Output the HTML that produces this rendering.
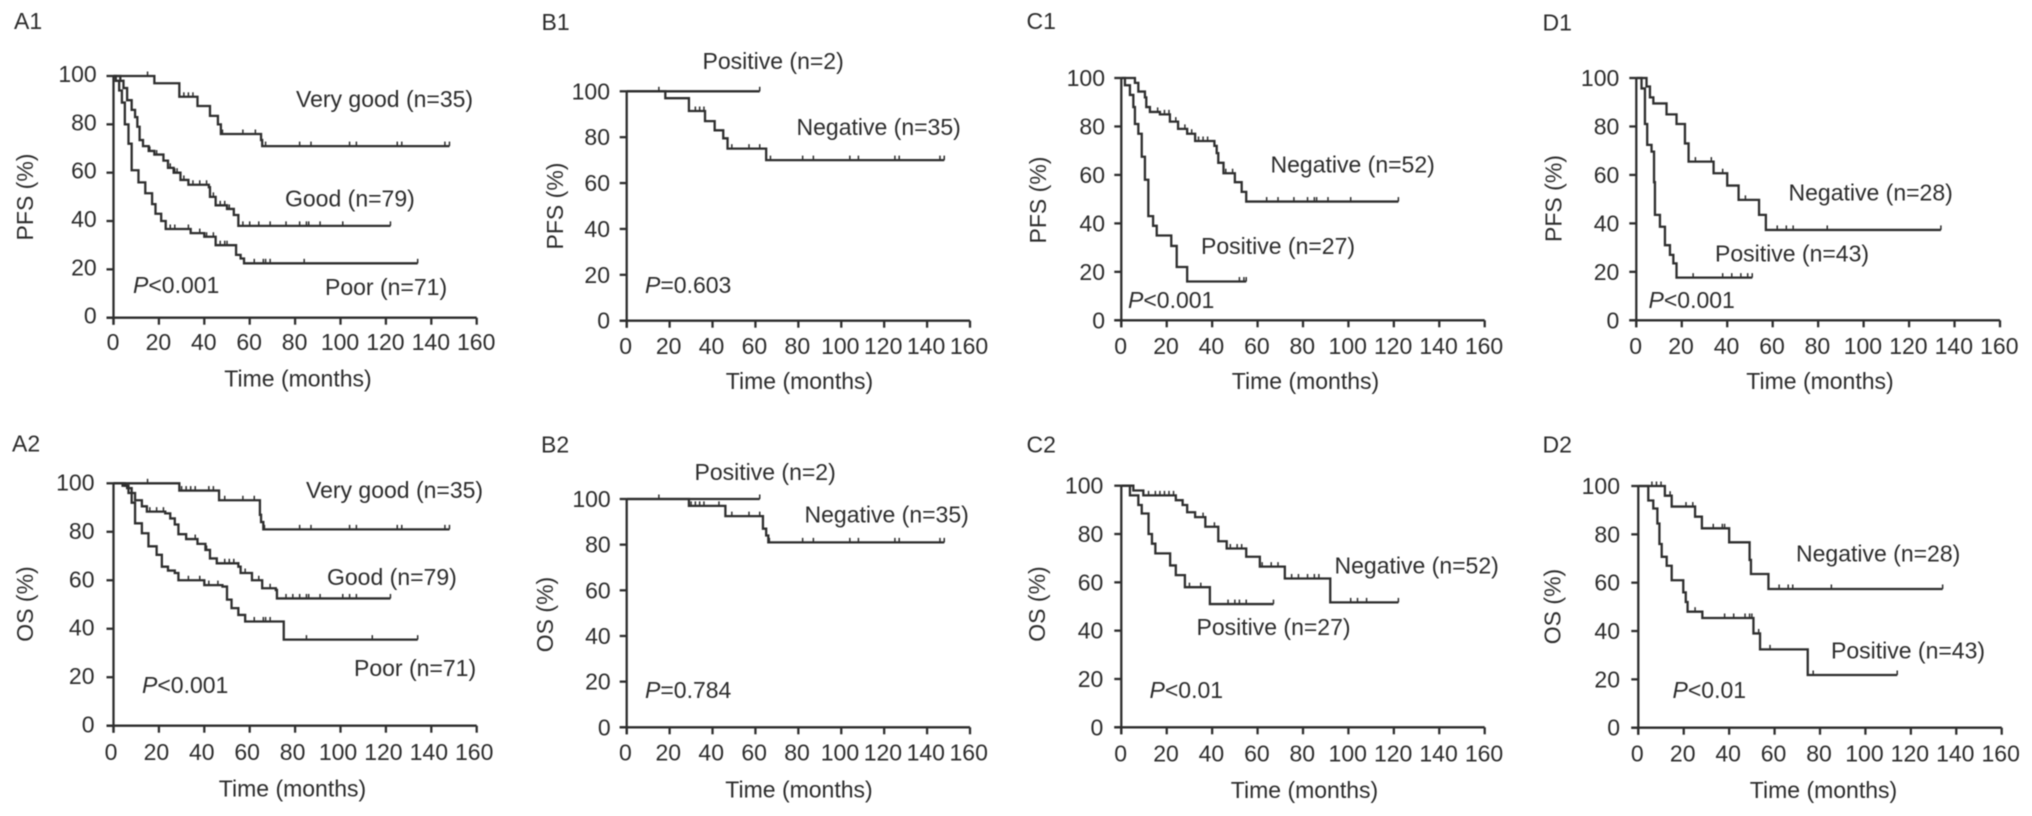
<!DOCTYPE html>
<html lang="en">
<head>
<meta charset="utf-8">
<title>Kaplan-Meier survival curves</title>
<style>
  html, body { margin: 0; padding: 0; background: #fff; width: 2032px; height: 816px; overflow: hidden; }
  svg { display: block; filter: blur(0.6px); }
  text { font-family: "Liberation Sans", Arial, sans-serif; font-size: 23px; fill: #2c2c2c; }
  .axis, .tick, .curve, .censor { stroke: #2e2e2e; fill: none; }
  .axis, .tick { stroke-width: 2.3; }
  .curve { stroke-width: 2.3; stroke-linejoin: miter; }
  .censor { stroke-width: 1.5; }
</style>
</head>
<body>
<svg id="figure" xmlns="http://www.w3.org/2000/svg" width="2032" height="816" viewBox="0 0 2032 816">
  <rect width="2032" height="816" fill="#fff"/>

  <g id="panel-a1">
    <text x="14" y="29">A1</text>
    <text x="296" y="107">Very good (n=35)</text>
    <text x="285" y="206.5">Good (n=79)</text>
    <text x="325" y="295">Poor (n=71)</text>
    <text x="133" y="293"><tspan font-style="italic">P</tspan>&lt;0.001</text>
    <text x="298" y="386.5" text-anchor="middle">Time (months)</text>
    <text x="33" y="197" text-anchor="middle" transform="rotate(-90 33 197)">PFS (%)</text>
  </g>

  <g id="panel-a2">
    <text x="12" y="451.5">A2</text>
    <text x="306" y="498">Very good (n=35)</text>
    <text x="327" y="585">Good (n=79)</text>
    <text x="354" y="676">Poor (n=71)</text>
    <text x="142" y="693"><tspan font-style="italic">P</tspan>&lt;0.001</text>
    <text x="292.5" y="796.5" text-anchor="middle">Time (months)</text>
    <text x="33" y="604" text-anchor="middle" transform="rotate(-90 33 604)">OS (%)</text>
  </g>

  <g id="panel-b1">
    <text x="541.5" y="30">B1</text>
    <text x="702.5" y="69">Positive (n=2)</text>
    <text x="796.5" y="135">Negative (n=35)</text>
    <text x="645" y="293"><tspan font-style="italic">P</tspan>=0.603</text>
    <text x="799.5" y="389" text-anchor="middle">Time (months)</text>
    <text x="563" y="206" text-anchor="middle" transform="rotate(-90 563 206)">PFS (%)</text>
  </g>

  <g id="panel-b2">
    <text x="541" y="452.5">B2</text>
    <text x="694.5" y="480">Positive (n=2)</text>
    <text x="804.5" y="522.5">Negative (n=35)</text>
    <text x="645" y="698"><tspan font-style="italic">P</tspan>=0.784</text>
    <text x="799" y="797.5" text-anchor="middle">Time (months)</text>
    <text x="553" y="614.5" text-anchor="middle" transform="rotate(-90 553 614.5)">OS (%)</text>
  </g>

  <g id="panel-c1">
    <text x="1026.5" y="29">C1</text>
    <text x="1270.5" y="172.5">Negative (n=52)</text>
    <text x="1201" y="254">Positive (n=27)</text>
    <text x="1128" y="308"><tspan font-style="italic">P</tspan>&lt;0.001</text>
    <text x="1305.5" y="389" text-anchor="middle">Time (months)</text>
    <text x="1046" y="200" text-anchor="middle" transform="rotate(-90 1046 200)">PFS (%)</text>
  </g>

  <g id="panel-c2">
    <text x="1026.5" y="452.5">C2</text>
    <text x="1334.5" y="573.5">Negative (n=52)</text>
    <text x="1196.5" y="635">Positive (n=27)</text>
    <text x="1149.5" y="698"><tspan font-style="italic">P</tspan>&lt;0.01</text>
    <text x="1304.5" y="798" text-anchor="middle">Time (months)</text>
    <text x="1045" y="604" text-anchor="middle" transform="rotate(-90 1045 604)">OS (%)</text>
  </g>

  <g id="panel-d1">
    <text x="1542.5" y="30.5">D1</text>
    <text x="1788.5" y="200.5">Negative (n=28)</text>
    <text x="1715" y="261.5">Positive (n=43)</text>
    <text x="1648.5" y="308"><tspan font-style="italic">P</tspan>&lt;0.001</text>
    <text x="1820" y="389" text-anchor="middle">Time (months)</text>
    <text x="1561.5" y="198.5" text-anchor="middle" transform="rotate(-90 1561.5 198.5)">PFS (%)</text>
  </g>

  <g id="panel-d2">
    <text x="1542.5" y="452.5">D2</text>
    <text x="1796" y="561.5">Negative (n=28)</text>
    <text x="1831" y="658.5">Positive (n=43)</text>
    <text x="1672.5" y="698"><tspan font-style="italic">P</tspan>&lt;0.01</text>
    <text x="1823.5" y="798" text-anchor="middle">Time (months)</text>
    <text x="1560.5" y="606.5" text-anchor="middle" transform="rotate(-90 1560.5 606.5)">OS (%)</text>
  </g>
</svg>

<script>
// ---------- tick labels ----------
const timeTickLabels = [0, 20, 40, 60, 80, 100, 120, 140, 160];
const percentTickLabels = [0, 20, 40, 60, 80, 100];

// ---------- A1 (PFS) ----------
const a1VeryGoodTimes = [18, 29, 37, 42.5, 46, 47.3, 65, 65.5];
const a1VeryGoodValues = [97, 91.4, 87.6, 83.5, 80, 76, 73.5, 71];
const a1VeryGoodCensored = [15, 31, 33, 35, 48, 57, 62.5, 67, 82, 87, 104, 107, 125, 127, 146, 148];
const a1VeryGoodEnd = 148;

const a1GoodTimes = [3, 4.4, 6, 8, 9.5, 10.5, 11.5, 13, 15.5, 18, 22, 24, 26.5, 29.5, 33, 42, 42.5, 45, 50, 53, 55];
const a1GoodValues = [98, 95, 90, 86, 83, 79, 73.5, 71, 69, 67.5, 65, 62, 60, 57, 55, 54, 50, 46.5, 45, 42.5, 38];
const a1GoodCensored = [16, 19, 22, 25, 27, 28, 31, 35, 38, 41, 44, 47, 49, 51, 57, 60, 64, 69, 76, 82, 85, 86, 91, 101, 122];
const a1GoodEnd = 122;

const a1PoorTimes = [1, 2.5, 3.7, 5, 6.6, 8, 11, 14, 17, 18.5, 21, 23, 34, 40, 45, 54, 56, 57.5];
const a1PoorValues = [98, 94, 89, 80, 72, 61, 56, 51.5, 47, 43, 40, 36.7, 35, 33.5, 30, 26, 24.5, 22.5];
const a1PoorCensored = [25, 27, 33, 38, 41, 44, 47, 49, 50, 62, 66, 67, 69, 84, 134];
const a1PoorEnd = 134;

// ---------- A2 (OS) ----------
const a2VeryGoodTimes = [29, 46.5, 64.5, 65, 66];
const a2VeryGoodValues = [97, 93, 87, 84, 81];
const a2VeryGoodCensored = [15, 30, 32, 34, 36, 42, 44, 49, 57, 62, 66.5, 82, 87, 104, 107, 125, 127, 146, 148];
const a2VeryGoodEnd = 148;

const a2GoodTimes = [5, 6.6, 9.5, 12.5, 14.7, 22.8, 25, 27, 28.6, 32, 37, 40.5, 42.5, 45.5, 55, 56, 61, 65.5, 71.5, 72];
const a2GoodValues = [99, 96, 93, 90.5, 88.3, 87.6, 85.5, 83, 79, 77, 75, 72.5, 69, 67, 65.6, 63, 60, 56.7, 56, 52.5];
const a2GoodCensored = [16, 19, 22, 36, 41, 49, 51, 53, 55, 58, 64, 69, 76, 79, 82, 85, 86, 91, 101, 104, 107, 122];
const a2GoodEnd = 122;

const a2PoorTimes = [4, 6, 8, 9.5, 12.5, 15.4, 19, 21.3, 24, 27, 28.6, 40, 48, 50, 52, 55, 58, 75];
const a2PoorValues = [99, 98, 92, 83.5, 79.4, 74, 70.5, 65.6, 64, 63, 60, 58, 57.4, 52, 48.5, 45.7, 43, 35.5];
const a2PoorCensored = [33, 38, 42, 46, 62, 66, 67, 69, 85, 114, 134];
const a2PoorEnd = 134;

// ---------- B1 (PFS) ----------
const b1PositiveTimes = [];
const b1PositiveValues = [];
const b1PositiveCensored = [15, 62];
const b1PositiveEnd = 62;

const b1NegativeTimes = [18, 29, 36.5, 41, 45, 47, 65];
const b1NegativeValues = [97, 91.4, 87, 83, 79.5, 75, 70];
const b1NegativeCensored = [32, 34, 36, 49, 57, 62, 67, 82, 87, 104, 108, 125, 127, 146, 148];
const b1NegativeEnd = 148;

// ---------- B2 (OS) ----------
const b2PositiveTimes = [];
const b2PositiveValues = [];
const b2PositiveCensored = [15, 62];
const b2PositiveEnd = 62;

const b2NegativeTimes = [29, 46, 63.5, 65, 66];
const b2NegativeValues = [97, 92.5, 87, 84, 81];
const b2NegativeCensored = [30, 32, 34, 36, 43, 49, 57, 62, 66.5, 82, 87, 104, 108, 125, 127, 146, 148];
const b2NegativeEnd = 148;

// ---------- C1 (PFS) ----------
const c1NegativeTimes = [6, 7.5, 10.4, 11, 12.6, 17, 21.4, 25, 29, 32.5, 41, 42, 42.7, 45, 50, 53, 55];
const c1NegativeValues = [98, 94.4, 92, 88, 86, 85, 82, 79, 77, 74, 72, 69, 65, 60.7, 57, 53, 49];
const c1NegativeCensored = [16, 19, 21, 24, 28, 31, 34, 36, 38, 46, 49, 64, 69, 76, 82, 85, 86, 91, 101, 122];
const c1NegativeEnd = 122;

const c1PositiveTimes = [1.6, 3.8, 5.3, 6, 7.5, 9, 10.4, 11.9, 14, 15.6, 22, 24.4, 29];
const c1PositiveValues = [97, 93, 88, 81, 77, 67.5, 58, 43, 39, 35, 30.7, 22, 16];
const c1PositiveCensored = [52, 54, 55];
const c1PositiveEnd = 55;

// ---------- C2 (OS) ----------
const c2NegativeTimes = [5.3, 9.7, 24, 27, 29, 32.5, 37, 42.7, 46.4, 55, 61, 72, 92];
const c2NegativeValues = [98, 96, 94, 92, 89, 87, 83, 77, 74, 70.6, 66.5, 61.6, 51.7];
const c2NegativeCensored = [12, 15, 17, 19, 21, 23, 36, 41, 48, 51, 53, 62, 66, 69, 75, 78, 82, 85, 87, 92, 101, 104, 108, 122];
const c2NegativeEnd = 122;

const c2PositiveTimes = [3.8, 7.5, 9, 12, 13.5, 15, 21.5, 24, 28, 39];
const c2PositiveValues = [96, 92, 88.5, 80, 76, 72, 67, 63, 58, 51];
const c2PositiveCensored = [30, 35, 47, 50, 52, 55, 67];
const c2PositiveEnd = 67;

// ---------- D1 (PFS) ----------
const d1NegativeTimes = [4.5, 6, 7.5, 13.3, 17.7, 21.4, 23, 34, 40, 45, 54, 57];
const d1NegativeValues = [96.5, 92, 89.5, 85, 81, 73, 65.5, 60.7, 55.6, 49.7, 43.5, 37.3];
const d1NegativeCensored = [26, 33, 38, 48, 62, 66, 69, 84, 134];
const d1NegativeEnd = 134;

const d1PositiveTimes = [2.3, 3.8, 4.8, 6.7, 7.8, 8.2, 10.4, 12.6, 14.8, 16.3, 17.7];
const d1PositiveValues = [95.7, 81, 72.4, 69.6, 57, 43.5, 38.6, 31, 27, 23.5, 17.6];
const d1PositiveCensored = [25, 38, 42, 46, 49, 51];
const d1PositiveEnd = 51;

// ---------- D2 (OS) ----------
const d2NegativeTimes = [11.7, 14.7, 25, 28, 40, 49, 49.6, 57.3];
const d2NegativeValues = [96, 91.5, 87.3, 82.5, 76.7, 69.4, 63.6, 57.4];
const d2NegativeCensored = [6, 8, 10, 14, 21, 24, 33, 37, 38, 62, 66, 68, 85, 134];
const d2NegativeEnd = 134;

const d2PositiveTimes = [4.4, 6.6, 8.4, 9.3, 10.3, 12.5, 14.7, 19.8, 20.9, 21.7, 28.2, 50.7, 53.6, 74.6];
const d2PositiveValues = [94, 90.7, 84.5, 76, 70.7, 67, 61, 56, 52, 48, 45.4, 39, 32.4, 21.8];
const d2PositiveCensored = [25, 38, 42, 47, 49, 50, 53, 58, 77, 114];
const d2PositiveEnd = 114;

// ---------- panel frames (layout only) ----------
const frameA1 = { left: 113.5, right: 476.7, top: 76, bottom: 317.7, xLabelY: 350, xLabelShift: -0.5, yLabelX: 96.7, yLabelShift: 6 };
const frameA2 = { left: 113.5, right: 476.7, top: 483.3, bottom: 725.7, xLabelY: 760, xLabelShift: -2.5, yLabelX: 94.5, yLabelShift: 7 };
const frameB1 = { left: 626.7, right: 970, top: 91.3, bottom: 320.7, xLabelY: 354, xLabelShift: -1, yLabelX: 610, yLabelShift: 8 };
const frameB2 = { left: 626.7, right: 970, top: 499, bottom: 727.3, xLabelY: 760.7, xLabelShift: -1.3, yLabelX: 610.7, yLabelShift: 8 };
const frameC1 = { left: 1121.3, right: 1484.7, top: 78, bottom: 320.3, xLabelY: 354, xLabelShift: -0.7, yLabelX: 1105, yLabelShift: 8 };
const frameC2 = { left: 1121.3, right: 1484.7, top: 485.7, bottom: 727.3, xLabelY: 761.7, xLabelShift: -0.7, yLabelX: 1103.3, yLabelShift: 8 };
const frameD1 = { left: 1636.3, right: 2000, top: 78, bottom: 320.3, xLabelY: 354, xLabelShift: -0.7, yLabelX: 1619.3, yLabelShift: 8 };
const frameD2 = { left: 1638.3, right: 2001.7, top: 486, bottom: 727.7, xLabelY: 761.7, xLabelShift: -1, yLabelX: 1620, yLabelShift: 8 };

const panels = [
  { id: 'panel-a1', frame: frameA1, series: [
    { name: 'very-good', times: a1VeryGoodTimes, values: a1VeryGoodValues, censored: a1VeryGoodCensored, end: a1VeryGoodEnd },
    { name: 'good', times: a1GoodTimes, values: a1GoodValues, censored: a1GoodCensored, end: a1GoodEnd },
    { name: 'poor', times: a1PoorTimes, values: a1PoorValues, censored: a1PoorCensored, end: a1PoorEnd } ] },
  { id: 'panel-a2', frame: frameA2, series: [
    { name: 'very-good', times: a2VeryGoodTimes, values: a2VeryGoodValues, censored: a2VeryGoodCensored, end: a2VeryGoodEnd },
    { name: 'good', times: a2GoodTimes, values: a2GoodValues, censored: a2GoodCensored, end: a2GoodEnd },
    { name: 'poor', times: a2PoorTimes, values: a2PoorValues, censored: a2PoorCensored, end: a2PoorEnd } ] },
  { id: 'panel-b1', frame: frameB1, series: [
    { name: 'positive', times: b1PositiveTimes, values: b1PositiveValues, censored: b1PositiveCensored, end: b1PositiveEnd },
    { name: 'negative', times: b1NegativeTimes, values: b1NegativeValues, censored: b1NegativeCensored, end: b1NegativeEnd } ] },
  { id: 'panel-b2', frame: frameB2, series: [
    { name: 'positive', times: b2PositiveTimes, values: b2PositiveValues, censored: b2PositiveCensored, end: b2PositiveEnd },
    { name: 'negative', times: b2NegativeTimes, values: b2NegativeValues, censored: b2NegativeCensored, end: b2NegativeEnd } ] },
  { id: 'panel-c1', frame: frameC1, series: [
    { name: 'negative', times: c1NegativeTimes, values: c1NegativeValues, censored: c1NegativeCensored, end: c1NegativeEnd },
    { name: 'positive', times: c1PositiveTimes, values: c1PositiveValues, censored: c1PositiveCensored, end: c1PositiveEnd } ] },
  { id: 'panel-c2', frame: frameC2, series: [
    { name: 'negative', times: c2NegativeTimes, values: c2NegativeValues, censored: c2NegativeCensored, end: c2NegativeEnd },
    { name: 'positive', times: c2PositiveTimes, values: c2PositiveValues, censored: c2PositiveCensored, end: c2PositiveEnd } ] },
  { id: 'panel-d1', frame: frameD1, series: [
    { name: 'negative', times: d1NegativeTimes, values: d1NegativeValues, censored: d1NegativeCensored, end: d1NegativeEnd },
    { name: 'positive', times: d1PositiveTimes, values: d1PositiveValues, censored: d1PositiveCensored, end: d1PositiveEnd } ] },
  { id: 'panel-d2', frame: frameD2, series: [
    { name: 'negative', times: d2NegativeTimes, values: d2NegativeValues, censored: d2NegativeCensored, end: d2NegativeEnd },
    { name: 'positive', times: d2PositiveTimes, values: d2PositiveValues, censored: d2PositiveCensored, end: d2PositiveEnd } ] }
];

// ---------- drawing ----------
const SVG_NS = 'http://www.w3.org/2000/svg';
const TICK_LENGTH = 7;
const CENSOR_HEIGHT = 4.5;

function makeScaleX(frame) {
  const maxT = timeTickLabels[timeTickLabels.length - 1];
  return t => frame.left + (t / maxT) * (frame.right - frame.left);
}
function makeScaleY(frame) {
  const maxP = percentTickLabels[percentTickLabels.length - 1];
  return p => frame.bottom - (p / maxP) * (frame.bottom - frame.top);
}
function makeLine(x1, y1, x2, y2, cls) {
  const el = document.createElementNS(SVG_NS, 'line');
  el.setAttribute('x1', x1);
  el.setAttribute('y1', y1);
  el.setAttribute('x2', x2);
  el.setAttribute('y2', y2);
  el.setAttribute('class', cls);
  return el;
}
function valueAt(series, t) {
  let v = percentTickLabels[percentTickLabels.length - 1];
  for (let i = 0; i < series.times.length; i++) {
    if (series.times[i] <= t) v = series.values[i];
  }
  return v;
}

panels.forEach(panel => {
  const group = document.getElementById(panel.id);
  const f = panel.frame;
  const sx = makeScaleX(f);
  const sy = makeScaleY(f);

  const xAxis = makeLine(f.left - TICK_LENGTH, f.bottom, f.right, f.bottom, 'axis');
  
  
  group.appendChild(xAxis);

  const yAxis = makeLine(f.left, f.top, f.left, f.bottom + TICK_LENGTH, 'axis');
  
  
  group.appendChild(yAxis);

  timeTickLabels.forEach(t => {
    const tick = makeLine(sx(t), f.bottom, sx(t), f.bottom + TICK_LENGTH, 'tick');
    
    
    group.appendChild(tick);

    const label = document.createElementNS(SVG_NS, 'text');
    label.setAttribute('x', sx(t) + f.xLabelShift);
    label.setAttribute('y', f.xLabelY);
    label.setAttribute('text-anchor', 'middle');
    
    
    label.textContent = String(t);
    group.appendChild(label);
  });

  percentTickLabels.forEach(p => {
    const tick = makeLine(f.left - TICK_LENGTH, sy(p), f.left, sy(p), 'tick');
    
    
    group.appendChild(tick);

    const label = document.createElementNS(SVG_NS, 'text');
    label.setAttribute('x', f.yLabelX);
    label.setAttribute('y', sy(p) + f.yLabelShift);
    label.setAttribute('text-anchor', 'end');
    
    
    label.textContent = String(p);
    group.appendChild(label);
  });

  panel.series.forEach(series => {
    let d = 'M' + sx(0) + ' ' + sy(percentTickLabels[percentTickLabels.length - 1]);
    series.times.forEach((t, i) => {
      d += ' H' + sx(t) + ' V' + sy(series.values[i]);
    });
    d += ' H' + sx(series.end);

    const curve = document.createElementNS(SVG_NS, 'path');
    curve.setAttribute('d', d);
    curve.setAttribute('class', 'curve');
    
    
    group.appendChild(curve);

    series.censored.forEach(t => {
      const y = sy(valueAt(series, t));
      const mark = makeLine(sx(t), y, sx(t), y - CENSOR_HEIGHT, 'censor');
      
      
      group.appendChild(mark);
    });
  });
});
</script>
</body>
</html>
